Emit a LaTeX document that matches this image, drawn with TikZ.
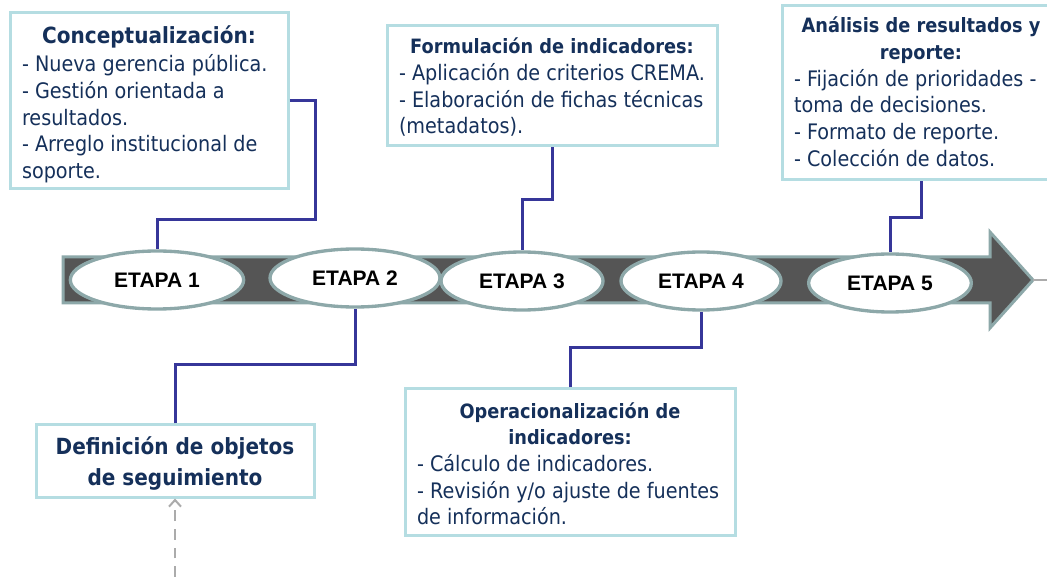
\documentclass[tikz,border=0pt]{standalone}
\usepackage{fontspec}
\setmainfont[FakeStretch=0.9]{DejaVu Sans}
\newfontfamily\etapafont{Liberation Sans}
\usetikzlibrary{shapes.geometric,arrows.meta}
\setlength{\parindent}{0pt}

\definecolor{navy}{HTML}{15305A}
\definecolor{boxline}{HTML}{B5DDE2}
\definecolor{linkcol}{HTML}{363699}
\definecolor{bandfill}{HTML}{555555}
\definecolor{ringcol}{HTML}{8DA8A9}
\definecolor{dashcol}{HTML}{ABABAB}

\newcommand{\headbig}{\fontsize{16.7}{23.25}\selectfont\bfseries}
\newcommand{\headsmall}{\fontsize{14.8}{20}\selectfont\bfseries}
\newcommand{\bodytxt}{\fontsize{16}{20}\selectfont}

\tikzset{infobox/.style={draw=boxline, line width=2.25pt, fill=white, text=navy, inner xsep=9pt, inner ysep=0pt},
         stage/.style={ellipse, draw=ringcol, line width=2.5pt, fill=white, inner sep=0pt, minimum height=43.5pt, font=\etapafont\bfseries\fontsize{15.75}{18}\selectfont},
         link/.style={draw=linkcol, line width=2.25pt}}

\begin{document}
\begin{tikzpicture}[x=0.75pt,y=-0.75pt]

\path[use as bounding box, fill=white] (0,0) rectangle (1047,577);

% the big arrow
\coordinate (tip) at (1033,280);
\draw[fill=bandfill, draw=ringcol, line width=2.25pt] (63,257) -- (990,257) -- (990,232) -- (tip)
       -- (990,328) -- (990,303) -- (63,303) -- cycle;
\draw[dashcol, line width=2pt] (tip) -- (1047,280);

% stages
\node[stage, minimum width=130pt] (e1) at (157,280) {ETAPA 1};
\node[stage, minimum width=127.5pt] (e2) at (355,278) {ETAPA 2};
\node[stage, minimum width=121.5pt] (e3) at (522,281) {ETAPA 3};
\node[stage, minimum width=120pt] (e4) at (701,281) {ETAPA 4};
\node[stage, minimum width=122pt] (e5) at (890,283) {ETAPA 5};

% boxes above
\node[infobox] (concept) at (149,101) {\parbox[c][132pt][t]{190.5pt}{%
   {\headbig\centering\rule{0pt}{23.25pt}Conceptualización:\par}\vspace{1pt}
   {\bodytxt\raggedright - Nueva gerencia pública.\\ - Gestión orientada a\\ resultados.\\
   - Arreglo institucional de\\ soporte.\par}}};
\node[infobox] (formul) at (552,86) {\parbox[c][90pt][t]{229.5pt}{%
   {\headsmall\centering\rule{0pt}{21pt}Formulación de indicadores:\par}
   {\bodytxt\raggedright - Aplicación de criterios CREMA.\\ - Elaboración de fichas técnicas\\ (metadatos).\par}}};
\node[infobox] (analisis) at (921,93) {\parbox[c][130.5pt][t]{190.5pt}{%
   {\headsmall\centering\rule{0pt}{20.25pt}Análisis de resultados y\\ reporte:\par}
   {\bodytxt\raggedright - Fijación de prioridades -\\ toma de decisiones.\\ - Formato de reporte.\\
   - Colección de datos.\par}}};

% boxes below
\node[infobox] (defin) at (175,461) {\parbox[c][54pt][t]{190.5pt}{%
   {\headbig\centering\rule{0pt}{22.5pt}Definición de objetos\\ de seguimiento\par}}};
\node[infobox] (operac) at (570,462) {\parbox[c][109.5pt][t]{229.5pt}{%
   {\headsmall\centering\rule{0pt}{21.75pt}Operacionalización de\\ indicadores:\par}
   {\bodytxt\raggedright - Cálculo de indicadores.\\ - Revisión y/o ajuste de fuentes\\ de información.\par}}};

% connectors
\draw[link] (concept.east) -| (315,220) -| (e1.north);
\draw[link] (formul.south) -- ++(0,52) -| (e3.north);
\draw[link] (analisis.south) -- ++(0,36) -| (e5.north);
\draw[link] (defin.north) -- ++(0,-59) -| (e2.south);
\draw[link] (operac.north) -- ++(0,-40) -| (e4.south);

% input from below
\coordinate (src) at (175,577);
\draw[dashcol, line width=1.5pt, dash pattern=on 8pt off 6pt, -{Straight Barb[length=5pt,width=9pt]}] (src) -- (defin.south);

\end{tikzpicture}
\end{document}
